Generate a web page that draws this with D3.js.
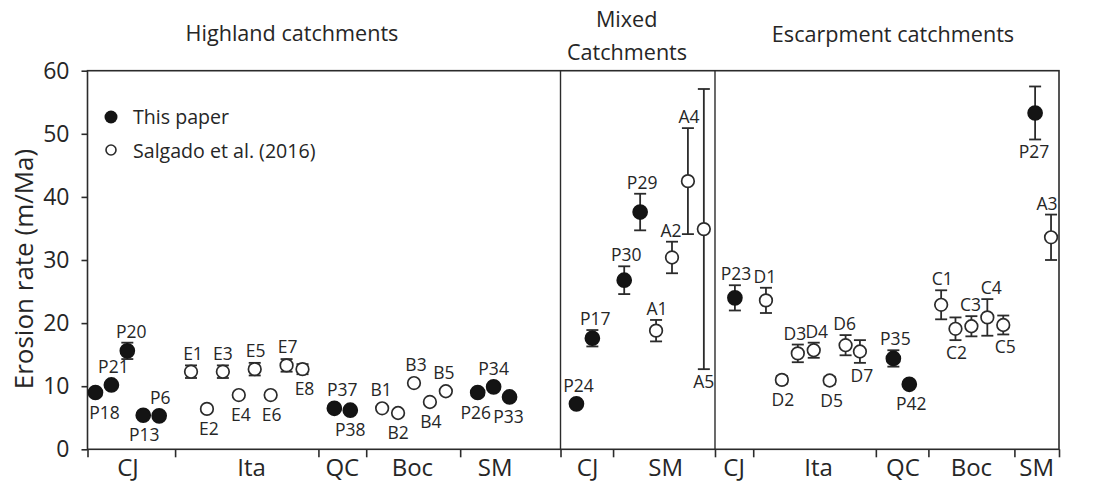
<!DOCTYPE html>
<html><head><meta charset="utf-8">
<script src="https://cdn.jsdelivr.net/npm/d3@7"></script>
<style>
html,body{margin:0;padding:0;background:#fff;}
text{font-family:"Open Sans",sans-serif;fill:#262626;}
</style></head>
<body>
<svg id="chart" width="1103" height="486"></svg>
<script>
// ---------- data ----------
const sampleIds = ["P18","P21","P20","P13","P6","E1","E2","E3","E4","E5","E6","E7","E8","P37","P38","B1","B2","B3","B4","B5","P26","P34","P33",
  "P24","P17","P30","P29","A1","A2","A4","A5",
  "P23","D1","D2","D3","D4","D5","D6","D7","P35","P42","C1","C2","C3","C4","C5","P27","A3"];
const samplePos = [1,2,3,4,5,7,8,9,10,11,12,13,14,16,17,19,20,21,22,23,25,26,27,
  31.2,32.2,34.2,35.2,36.2,37.2,38.2,39.2,
  41.15,43.1,44.1,45.1,46.1,47.1,48.1,49.0,51.1,52.1,54.1,55.0,56.0,57.0,58.0,60.0,61.0];
const erosionRate = [9.0,10.2,15.6,5.4,5.3,12.3,6.4,12.3,8.6,12.7,8.6,13.3,12.7,6.5,6.2,6.5,5.75,10.5,7.5,9.2,9.0,9.9,8.3,
  7.2,17.6,26.8,37.6,18.8,30.4,42.5,34.9,
  24.0,23.6,11.0,15.2,15.7,10.9,16.5,15.5,14.4,10.3,22.9,19.1,19.5,20.9,19.7,53.3,33.6];
const rateError = [0.3,0.4,1.3,0.3,0.3,1.0,0.3,1.0,0.3,1.0,0.3,1.0,0.8,0.3,0.3,0.3,0.3,0.3,0.3,0.3,0.3,0.3,0.3,
  0.4,1.3,2.2,2.9,1.7,2.5,8.4,22.2,
  2.0,2.0,0.6,1.4,1.2,0.6,1.6,1.8,1.3,0.3,2.3,1.8,1.6,2.9,1.5,4.2,3.6];
// source: 1 = This paper (filled), 0 = Salgado et al. (2016) (open)
const sourceThisPaper = [1,1,1,1,1,0,0,0,0,0,0,0,0,1,1,0,0,0,0,0,1,1,1,
  1,1,1,1,0,0,0,0,
  1,0,0,0,0,0,0,0,1,1,0,0,0,0,0,1,0];
const groupLabels = ["CJ","Ita","QC","Boc","SM","CJ","SM","CJ","Ita","QC","Boc","SM"];
const groupLabelPos = [3.04,10.8,16.5,20.9,26.1,31.9,36.8,41.1,46.4,51.7,56.0,60.1];
const groupTickPos = [0.5,6,15,18,23.9,30.2,33.5,39.9,42.3,50,53.3,58.7,61.5];
const separatorPos = [30.2,39.9];
const yTicks = [0,10,20,30,40,50,60];
const legendLabels = ["This paper","Salgado et al. (2016)"];

// ---------- label placement (layout) ----------
// 1 = above, 0 = below
const labelAbove = [0,1,1,0,1,1,0,1,0,1,0,1,0,1,0,1,0,1,0,1,0,1,0,
  1,1,1,1,1,1,1,0,
  1,1,0,1,1,0,1,0,1,0,1,0,1,1,0,0,1];
const labelDx = [9,2,4,1,1,2,2,0,2,1,1,1,2,8,0,-1,0,2,1,-2,-2,0,-1,
  2,3,2,2,1,-1,1,0,
  1,-1,1,-3,3,2,-1,2,2,2,1,1,-1,4,2,-1,-4];

// ---------- layout ----------
const W = 1103, H = 486;
const plot = {left:87.5, right:1059, top:70.7, bottom:449.3};
const svg = d3.select("#chart");
svg.append("rect").attr("width",W).attr("height",H).attr("fill","#fff");

const x = d3.scaleLinear().domain([0.5,61.5]).range([plot.left, plot.right]);
const y = d3.scaleLinear().domain([0,60]).range([plot.bottom, plot.top]);
const ink = "#2b2b2b";

// y axis
const yAxis = d3.axisLeft(y).tickValues(yTicks).tickSize(6).tickPadding(12).tickFormat(d3.format("d"));
const gy = svg.append("g").attr("transform",`translate(${plot.left},0)`).call(yAxis);
gy.select(".domain").remove();
gy.selectAll(".tick line").attr("stroke",ink).attr("stroke-width",1.6);
gy.selectAll(".tick text").attr("font-size",23).attr("font-family","Open Sans").attr("fill","#262626");

// x axis with group boundary ticks
const xAxis = d3.axisBottom(x).tickValues(groupTickPos).tickSize(8).tickFormat("");
const gx = svg.append("g").attr("transform",`translate(0,${plot.bottom})`).call(xAxis);
gx.select(".domain").remove();
gx.selectAll(".tick line").attr("stroke",ink).attr("stroke-width",1.6);

// frame
svg.append("rect").attr("x",plot.left).attr("y",plot.top)
  .attr("width",plot.right-plot.left).attr("height",plot.bottom-plot.top)
  .attr("fill","none").attr("stroke",ink).attr("stroke-width",1.6);

// separators
svg.selectAll("line.sep").data(separatorPos).enter().append("line")
  .attr("x1",d=>x(d)).attr("x2",d=>x(d)).attr("y1",plot.top).attr("y2",plot.bottom)
  .attr("stroke",ink).attr("stroke-width",1.4);

// group labels
svg.selectAll("text.grp").data(groupLabels).enter().append("text")
  .attr("x",(d,i)=>x(groupLabelPos[i])).attr("y",476)
  .attr("text-anchor","middle").attr("font-size",24).text(d=>d);

// section titles
const titles = [
  {t:"Highland catchments", cx:292, by:41},
  {t:"Mixed", cx:626.7, by:26.5},
  {t:"Catchments", cx:627, by:59.5},
  {t:"Escarpment catchments", cx:893, by:41.5}
];
svg.selectAll("text.title").data(titles).enter().append("text")
  .attr("x",d=>d.cx).attr("y",d=>d.by).attr("text-anchor","middle")
  .attr("font-size",21.6).text(d=>d.t);

// y title
svg.append("text").attr("transform","translate(33,269) rotate(-90)")
  .attr("text-anchor","middle").attr("font-size",26).text("Erosion rate (m/Ma)");

// data points
const pts = sampleIds.map((id,i)=>({id, xv:samplePos[i], v:erosionRate[i], e:rateError[i],
  filled:sourceThisPaper[i]===1, above:labelAbove[i]===1, dx:labelDx[i]}));
const R = 7, cap = 6;

const eg = svg.append("g");
pts.forEach(p=>{
  const cx = x(p.xv), y1 = y(p.v+p.e), y2 = y(p.v-p.e);
  eg.append("line").attr("x1",cx).attr("x2",cx).attr("y1",y1).attr("y2",y2).attr("stroke",ink).attr("stroke-width",1.8);
  eg.append("line").attr("x1",cx-cap).attr("x2",cx+cap).attr("y1",y1).attr("y2",y1).attr("stroke",ink).attr("stroke-width",1.8);
  eg.append("line").attr("x1",cx-cap).attr("x2",cx+cap).attr("y1",y2).attr("y2",y2).attr("stroke",ink).attr("stroke-width",1.8);
});

svg.append("g").selectAll("circle").data(pts).enter().append("circle")
  .attr("cx",d=>x(d.xv)).attr("cy",d=>y(d.v))
  .attr("r",d=>d.filled?R:6.3)
  .attr("fill",d=>d.filled?"#141414":"#fff")
  .attr("stroke",d=>d.filled?"#141414":ink).attr("stroke-width",1.7);

svg.append("g").selectAll("text").data(pts).enter().append("text")
  .attr("x",d=>x(d.xv)+d.dx)
  .attr("y",d=>{
    const top = Math.min(y(d.v+d.e), y(d.v)-R);
    const bot = Math.max(y(d.v-d.e), y(d.v)+R);
    return d.above ? top-5 : bot+19;
  })
  .attr("text-anchor","middle").attr("font-size",17.5).text(d=>d.id);

// legend
const lg = svg.append("g");
lg.append("circle").attr("cx",111).attr("cy",117).attr("r",6.5).attr("fill","#141414");
lg.append("circle").attr("cx",111).attr("cy",150).attr("r",5).attr("fill","#fff").attr("stroke",ink).attr("stroke-width",1.6);
lg.selectAll("text").data(legendLabels).enter().append("text")
  .attr("x",133).attr("y",(d,i)=>124+i*33.5).attr("font-size",19.6).text(d=>d);
</script>
</body></html>
